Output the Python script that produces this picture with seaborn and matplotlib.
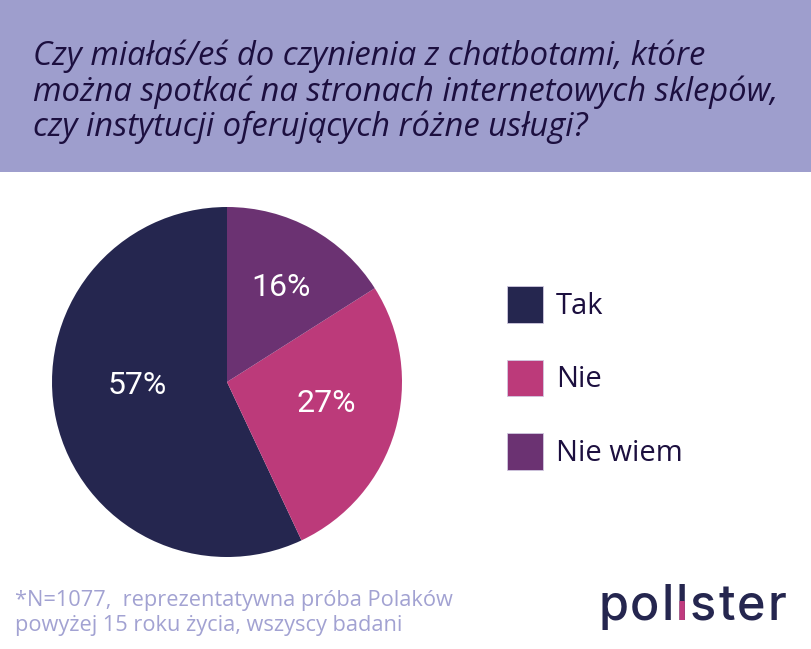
import matplotlib
matplotlib.use('Agg')
import matplotlib.pyplot as plt
import seaborn as sns
from matplotlib.patches import Rectangle, Patch
from matplotlib.transforms import Bbox

answers = ["Tak", "Nie", "Nie wiem"]
shares = [57, 27, 16]
colors = ["#25264f", "#bc3a7a", "#6b3272"]
title = ("Czy miałaś/eś do czynienia z chatbotami, które\n"
         "można spotkać na stronach internetowych sklepów,\n"
         "czy instytucji oferujących różne usługi?")
note = "*N=1077,  reprezentatywna próba Polaków\npowyżej 15 roku życia, wszyscy badani"

sns.set_style("white")
plt.rcParams['font.family'] = ['Open Sans', 'DejaVu Sans']

fig = plt.figure(figsize=(8.12, 6.49), dpi=100)
W, H = 812, 649

# header band
fig.patches.append(Rectangle((0, 1 - 172 / H), 1, 172 / H, transform=fig.transFigure,
                             facecolor="#9e9ecd", edgecolor="none", zorder=0))
fig.text(33 / W, 1 - 92 / H, title, ha="left", va="center", fontsize=23.6,
         style="italic", color="#1c0f3f", linespacing=1.07)

# pie
ax = fig.add_axes([52 / W, 1 - 557 / H, 350 / W, 350 / H])
wedges, _ = ax.pie(shares, colors=colors, startangle=90, counterclock=True,
                   wedgeprops=dict(linewidth=0))
ax.set_xlim(-1, 1)
ax.set_ylim(-1, 1)
ax.set_aspect("equal")
label_pos = [(137, 385), (326, 404), (281, 287)]
for (px, py), v in zip(label_pos, shares):
    fig.text(px / W, 1 - py / H, f"{v}%", ha="center", va="center", color="white",
             fontsize=23, family=["Roboto", "DejaVu Sans"])

# legend
handles = [Patch(facecolor=c, edgecolor="#d0c8e0", linewidth=0.6) for c in colors]
leg = fig.legend(handles, answers, loc="upper left", bbox_to_anchor=(507 / W, 1 - 286 / H),
                 frameon=False, fontsize=21, handlelength=1.23, handleheight=1.55,
                 labelspacing=1.27, handletextpad=0.45, borderpad=0, borderaxespad=0)
for t in leg.get_texts():
    t.set_color("#1c0f3f")

# footnote
fig.text(15 / W, 1 - 613 / H, note, ha="left", va="center", fontsize=15.7,
         color="#a2a2d2", linespacing=1.22)

# logo
fig.canvas.draw()
renderer = fig.canvas.get_renderer()
x = 598
base = 1 - 620 / H
for i, ch in enumerate("pollster"):
    t = fig.text(x / W, base, ch, ha="left", va="baseline", fontsize=35,
                 color="#25264f", family=["Inter", "DejaVu Sans"], fontweight="medium")
    bb = t.get_window_extent(renderer)
    if i == 3:
        pink = fig.text(x / W, base, ch, ha="left", va="baseline", fontsize=35,
                        color="#c03a7e", family=["Inter", "DejaVu Sans"], fontweight="medium")
        pink.set_clip_box(Bbox.from_extents(0, 0, W, (1 - 601 / H) * H))
        pink.set_clip_on(True)
    x += bb.width + 2

fig.savefig("out.png", dpi=100)
